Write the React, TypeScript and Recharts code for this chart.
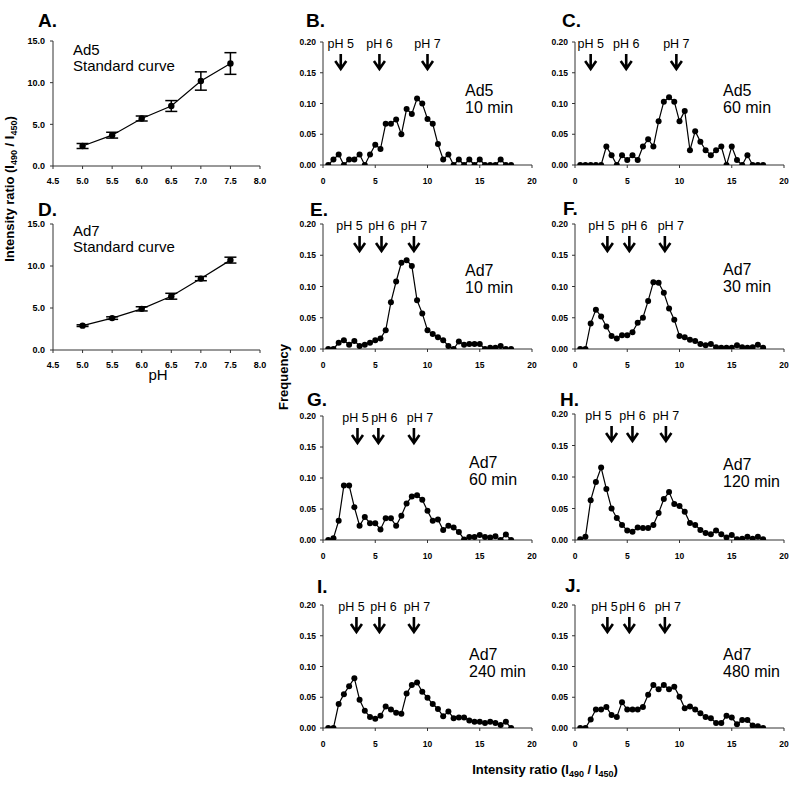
import React from "react"
import { LineChart, Line, XAxis, YAxis, ErrorBar, ReferenceDot } from "recharts"

const FONT = "'Liberation Sans', Arial, Helvetica, sans-serif"
const AXIS = "#333"

// standard curves (A, D)
const phLevels = [5.0, 5.5, 6.0, 6.5, 7.0, 7.5]
const phTicks = [4.5, 5.0, 5.5, 6.0, 6.5, 7.0, 7.5, 8.0]
const ratioTicks = [0, 5, 10, 15]
const ad5Ratio = [2.4, 3.7, 5.7, 7.2, 10.2, 12.3]
const ad5Err = [0.3, 0.35, 0.3, 0.65, 1.1, 1.3]
const ad7Ratio = [2.9, 3.8, 4.9, 6.4, 8.5, 10.7]
const ad7Err = [0.1, 0.15, 0.25, 0.35, 0.25, 0.35]

// histograms (B, C, E-J)
const ratioBins = [
  0.5, 1.0, 1.5, 2.0, 2.5, 3.0, 3.5, 4.0, 4.5, 5.0, 5.5, 6.0, 6.5, 7.0, 7.5, 8.0, 8.5, 9.0,
  9.5, 10.0, 10.5, 11.0, 11.5, 12.0, 12.5, 13.0, 13.5, 14.0, 14.5, 15.0, 15.5, 16.0, 16.5, 17.0, 17.5, 18.0,
]
const binTicks = [0, 5, 10, 15, 20]
const freqTicks = [0, 0.05, 0.1, 0.15, 0.2]

const ad5Min10 = [0, 0.009, 0.017, 0, 0.009, 0.009, 0.017, 0, 0.017, 0.033, 0.026, 0.067, 0.067, 0.074, 0.05, 0.091, 0.083, 0.108, 0.1, 0.075, 0.067, 0.034, 0.009, 0.017, 0, 0.009, 0, 0.009, 0, 0.009, 0, 0, 0, 0.009, 0, 0]
const ad5Min60 = [0, 0, 0, 0, 0, 0.03, 0.016, 0, 0.016, 0.008, 0.016, 0.008, 0.03, 0.042, 0.03, 0.071, 0.103, 0.11, 0.103, 0.071, 0.088, 0.024, 0.055, 0.038, 0.024, 0.016, 0.024, 0.03, 0, 0.03, 0.008, 0, 0.016, 0, 0, 0]
const ad7Min10 = [0, 0, 0.01, 0.014, 0.007, 0.013, 0.005, 0.007, 0.01, 0.014, 0.017, 0.03, 0.075, 0.108, 0.138, 0.142, 0.133, 0.078, 0.057, 0.03, 0.024, 0.019, 0.014, 0.005, 0, 0.012, 0.007, 0.008, 0.008, 0.008, 0, 0.002, 0.002, 0.005, 0, 0]
const ad7Min30 = [0, 0, 0.041, 0.063, 0.052, 0.036, 0.021, 0.017, 0.022, 0.022, 0.027, 0.042, 0.05, 0.077, 0.107, 0.106, 0.09, 0.065, 0.047, 0.021, 0.019, 0.015, 0.013, 0.008, 0.006, 0.008, 0.003, 0.002, 0.002, 0.002, 0.006, 0.003, 0.002, 0.003, 0.007, 0.002]
const ad7Min60 = [0, 0.003, 0.031, 0.088, 0.088, 0.053, 0.023, 0.037, 0.027, 0.027, 0.017, 0.035, 0.035, 0.023, 0.039, 0.059, 0.07, 0.072, 0.065, 0.047, 0.031, 0.033, 0.016, 0.023, 0.02, 0.013, 0.001, 0.005, 0.005, 0.008, 0.005, 0.004, 0.006, 0, 0.009, 0]
const ad7Min120 = [0.001, 0.005, 0.063, 0.092, 0.115, 0.081, 0.05, 0.035, 0.024, 0.015, 0.013, 0.02, 0.019, 0.019, 0.024, 0.043, 0.065, 0.076, 0.057, 0.054, 0.045, 0.027, 0.024, 0.016, 0.011, 0.009, 0.015, 0.009, 0.004, 0.008, 0.001, 0.002, 0.005, 0.002, 0.005, 0.001]
const ad7Min240 = [0, 0, 0.039, 0.055, 0.068, 0.081, 0.046, 0.028, 0.018, 0.015, 0.02, 0.035, 0.03, 0.025, 0.023, 0.056, 0.07, 0.074, 0.059, 0.049, 0.039, 0.031, 0.019, 0.027, 0.016, 0.017, 0.017, 0.012, 0.01, 0.01, 0.008, 0.01, 0.008, 0.005, 0.01, 0]
const ad7Min480 = [0, 0, 0.014, 0.03, 0.03, 0.034, 0.021, 0.018, 0.042, 0.03, 0.03, 0.03, 0.034, 0.054, 0.07, 0.063, 0.07, 0.063, 0.067, 0.051, 0.032, 0.035, 0.03, 0.024, 0.018, 0.016, 0.008, 0.008, 0.02, 0.017, 0.006, 0.013, 0.013, 0.004, 0.003, 0]

// where pH 5 / 6 / 7 fall on the intensity ratio axis
const phLabels = ["pH 5", "pH 6", "pH 7"]
const arrowsB = [1.7, 5.4, 10.0]
const arrowsC = [1.5, 4.9, 9.7]
const arrowsE = [3.5, 5.6, 8.7]
const arrowsF = [3.1, 5.2, 8.6]
const arrowsG = [3.3, 5.3, 8.7]
const arrowsH = [3.5, 5.5, 8.7]
const arrowsI = [3.2, 5.4, 8.7]
const arrowsJ = [3.1, 5.2, 8.6]

type Rect = { x: number; y: number; w: number; h: number }

const tickStyle = { fontSize: 8.5, fontWeight: 700, fill: "#000", fontFamily: FONT }
const ML = 50
const MT = 10
const MR = 10
const XH = 30

function Arrow({ cx, cy, label, dx }: { cx: number; cy: number; label: string; dx: number }) {
  return (
    <g>
      <text x={cx + dx} y={cy + 6} textAnchor="middle" fontSize={12.5} fontFamily={FONT} fill="#000">
        {label}
      </text>
      <path
        d={`M${cx},${cy + 12} L${cx},${cy + 27} M${cx - 5.5},${cy + 19} L${cx},${cy + 27} L${cx + 5.5},${cy + 19}`}
        stroke="#000"
        strokeWidth={2.6}
        fill="none"
      />
    </g>
  )
}

function HistPanel({ rect, values, arrows, labelDx }: { rect: Rect; values: number[]; arrows: number[]; labelDx: number[] }) {
  const data = ratioBins.map((x, i) => ({ x, f: values[i] }))
  return (
    <div style={{ position: "absolute", left: rect.x - ML, top: rect.y - MT }}>
      <LineChart width={rect.w + ML + MR} height={rect.h + MT + XH} data={data} margin={{ top: MT, right: MR, bottom: 0, left: 0 }}>
        <XAxis
          type="number"
          dataKey="x"
          domain={[0, 20]}
          ticks={binTicks}
          interval={0}
          height={XH}
          tickSize={3}
          tickMargin={10}
          tick={tickStyle}
          stroke={AXIS}
          allowDataOverflow
        />
        <YAxis
          type="number"
          domain={[0, 0.2]}
          ticks={freqTicks}
          interval={0}
          width={ML}
          tickSize={3}
          tickMargin={4}
          tick={tickStyle}
          stroke={AXIS}
          tickFormatter={(v: number) => v.toFixed(2)}
          allowDataOverflow
        />
        <Line
          dataKey="f"
          stroke="#000"
          strokeWidth={1.2}
          dot={{ r: 3, fill: "#000", stroke: "#000", strokeWidth: 0 }}
          isAnimationActive={false}
        />
        {arrows.map((a, i) => (
          <ReferenceDot
            key={i}
            x={a}
            y={0.2}
            r={0}
            ifOverflow="visible"
            shape={(p: any) => <Arrow cx={p.cx} cy={p.cy} label={phLabels[i]} dx={labelDx[i]} />}
          />
        ))}
      </LineChart>
    </div>
  )
}

function StdPanel({ rect, ratio, err }: { rect: Rect; ratio: number[]; err: number[] }) {
  const data = phLevels.map((ph, i) => ({ ph, r: ratio[i], e: err[i] }))
  return (
    <div style={{ position: "absolute", left: rect.x - ML, top: rect.y - MT }}>
      <LineChart width={rect.w + ML + MR} height={rect.h + MT + XH} data={data} margin={{ top: MT, right: MR, bottom: 0, left: 0 }}>
        <XAxis
          type="number"
          dataKey="ph"
          domain={[4.5, 8.0]}
          ticks={phTicks}
          interval={0}
          height={XH}
          tickSize={3}
          tickMargin={9}
          tick={{ ...tickStyle, fontSize: 9 }}
          stroke={AXIS}
          tickFormatter={(v: number) => v.toFixed(1)}
          allowDataOverflow
        />
        <YAxis
          type="number"
          domain={[0, 15]}
          ticks={ratioTicks}
          interval={0}
          width={ML}
          tickSize={3}
          tickMargin={5}
          tick={{ ...tickStyle, fontSize: 9 }}
          stroke={AXIS}
          tickFormatter={(v: number) => v.toFixed(1)}
          allowDataOverflow
        />
        <Line
          dataKey="r"
          stroke="#000"
          strokeWidth={1.2}
          dot={{ r: 3.2, fill: "#000", stroke: "#000", strokeWidth: 0 }}
          isAnimationActive={false}
        >
          <ErrorBar dataKey="e" direction="y" width={6} stroke="#000" strokeWidth={1.5} isAnimationActive={false} />
        </Line>
      </LineChart>
    </div>
  )
}

function Ratio({ x, y, rotate }: { x: number; y: number; rotate?: boolean }) {
  return (
    <text
      x={x}
      y={y}
      textAnchor="middle"
      fontSize={13}
      fontWeight={700}
      fontFamily={FONT}
      fill="#000"
      transform={rotate ? `rotate(-90 ${x} ${y})` : undefined}
    >
      Intensity ratio (I
      <tspan fontSize={9} dy={3}>490</tspan>
      <tspan dy={-3}> / I</tspan>
      <tspan fontSize={9} dy={3}>450</tspan>
      <tspan dy={-3}>)</tspan>
    </text>
  )
}

const letters = [
  { t: "A.", x: 38, y: 27 },
  { t: "B.", x: 306, y: 27 },
  { t: "C.", x: 562, y: 27 },
  { t: "D.", x: 38, y: 216 },
  { t: "E.", x: 310, y: 216 },
  { t: "F.", x: 563, y: 215 },
  { t: "G.", x: 307, y: 406 },
  { t: "H.", x: 560, y: 406 },
  { t: "I.", x: 317, y: 593 },
  { t: "J.", x: 565, y: 592 },
]

const captions = [
  { a: "Ad5", b: "Standard curve", x: 73, y: 55, size: 15 },
  { a: "Ad7", b: "Standard curve", x: 73, y: 236, size: 15 },
  { a: "Ad5", b: "10 min", x: 465, y: 96, size: 16 },
  { a: "Ad5", b: "60 min", x: 723, y: 96, size: 16 },
  { a: "Ad7", b: "10 min", x: 465, y: 276, size: 16 },
  { a: "Ad7", b: "30 min", x: 723, y: 275, size: 16 },
  { a: "Ad7", b: "60 min", x: 469, y: 468, size: 16 },
  { a: "Ad7", b: "120 min", x: 723, y: 470, size: 16 },
  { a: "Ad7", b: "240 min", x: 469, y: 660, size: 16 },
  { a: "Ad7", b: "480 min", x: 723, y: 660, size: 16 },
]

export default function App() {
  return (
    <div style={{ position: "absolute", left: 0, top: 0, width: 800, height: 792, background: "#fff", fontFamily: FONT }}>
      <StdPanel rect={{ x: 53, y: 41, w: 207, h: 125 }} ratio={ad5Ratio} err={ad5Err} />
      <StdPanel rect={{ x: 53, y: 224, w: 207, h: 126 }} ratio={ad7Ratio} err={ad7Err} />

      <HistPanel rect={{ x: 323, y: 42, w: 209, h: 123 }} values={ad5Min10} arrows={arrowsB} labelDx={[0, 0, 0]} />
      <HistPanel rect={{ x: 575, y: 42, w: 209, h: 123 }} values={ad5Min60} arrows={arrowsC} labelDx={[0, 0, 0]} />
      <HistPanel rect={{ x: 323, y: 224, w: 209, h: 125 }} values={ad7Min10} arrows={arrowsE} labelDx={[-10, 0, 0]} />
      <HistPanel rect={{ x: 575, y: 224, w: 209, h: 125 }} values={ad7Min30} arrows={arrowsF} labelDx={[-6, 5, 6]} />
      <HistPanel rect={{ x: 323, y: 416, w: 209, h: 124 }} values={ad7Min60} arrows={arrowsG} labelDx={[-2, 6, 6]} />
      <HistPanel rect={{ x: 575, y: 414, w: 209, h: 126 }} values={ad7Min120} arrows={arrowsH} labelDx={[-13, 0, 0]} />
      <HistPanel rect={{ x: 323, y: 605, w: 209, h: 123 }} values={ad7Min240} arrows={arrowsI} labelDx={[-5, 4, 3]} />
      <HistPanel rect={{ x: 575, y: 605, w: 209, h: 123 }} values={ad7Min480} arrows={arrowsJ} labelDx={[-3, 3, 3]} />

      <svg width={800} height={792} style={{ position: "absolute", left: 0, top: 0, pointerEvents: "none" }}>
        {letters.map((l) => (
          <text key={l.t} x={l.x} y={l.y} fontSize={19} fontWeight={700} fontFamily={FONT} fill="#000">
            {l.t}
          </text>
        ))}
        {captions.map((c, i) => (
          <text key={i} x={c.x} y={c.y} fontSize={c.size} fontFamily={FONT} fill="#000">
            <tspan x={c.x}>{c.a}</tspan>
            <tspan x={c.x} dy={c.size + 1}>{c.b}</tspan>
          </text>
        ))}
        <text x={158} y={380} textAnchor="middle" fontSize={15} fontFamily={FONT} fill="#000">
          pH
        </text>
        <Ratio x={14} y={189} rotate />
        <text
          x={288}
          y={377}
          textAnchor="middle"
          fontSize={13}
          fontWeight={700}
          fontFamily={FONT}
          fill="#000"
          transform="rotate(-90 288 377)"
        >
          Frequency
        </text>
        <Ratio x={545} y={774} />
      </svg>
    </div>
  )
}
